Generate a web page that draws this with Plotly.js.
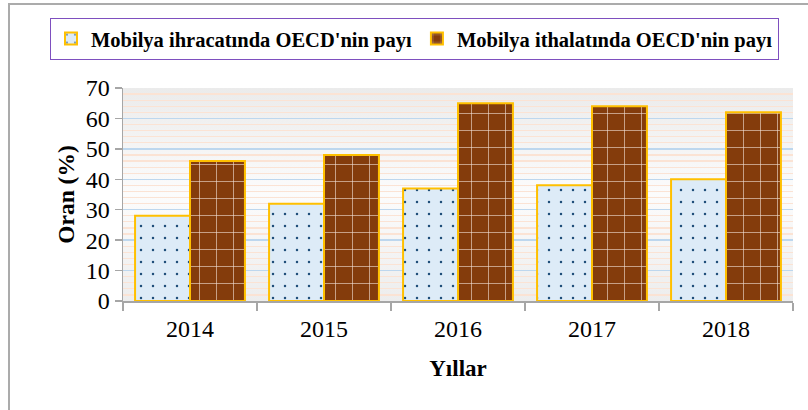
<!DOCTYPE html>
<html>
<head>
<meta charset="utf-8">
<script src="https://cdn.plot.ly/plotly-3.0.1.min.js"></script>
<style>
html,body{margin:0;padding:0;background:#fff;}
#wrap{position:relative;width:808px;height:410px;}
#chart{position:absolute;left:0;top:0;width:808px;height:410px;}
#frame{position:absolute;left:8px;top:3px;width:800px;height:407px;border-top:2px solid #ababab;border-left:2px solid #ababab;pointer-events:none;box-sizing:border-box;}
</style>
</head>
<body>
<div id="wrap"><div id="chart"></div><div id="frame"></div></div>
<script>
var years = ['2014', '2015', '2016', '2017', '2018'];
var exportShare = [28, 32, 37, 38, 40];
var importShare = [46, 48, 65, 64, 62];
var seriesNames = ["Mobilya ihracatında OECD'nin payı", "Mobilya ithalatında OECD'nin payı"];

var font = 'Liberation Serif, Times New Roman, serif';

var bgSvg = '<svg xmlns="http://www.w3.org/2000/svg" width="10" height="100" preserveAspectRatio="none">' +
  '<defs><linearGradient id="g" x1="0" y1="0" x2="0" y2="1">' +
  '<stop offset="0" stop-color="#ebebeb"/><stop offset="0.5" stop-color="#fcfcfc"/><stop offset="1" stop-color="#ededed"/>' +
  '</linearGradient></defs><rect width="10" height="100" fill="url(#g)"/></svg>';
var bgUri = 'data:image/svg+xml;base64,' + btoa(bgSvg);

var traces = [
  {
    type: 'bar', name: seriesNames[0], x: years, y: exportShare,
    marker: {
      color: '#ddebf7',
      line: {color: '#ffc000', width: 2},
      pattern: {shape: '.', fgcolor: '#1f4e79', bgcolor: '#ddebf7', size: 12, solidity: 0.035, fillmode: 'replace'}
    },
    hoverinfo: 'x+y'
  },
  {
    type: 'bar', name: seriesNames[1], x: years, y: importShare,
    marker: {
      color: '#843c0c',
      line: {color: '#ffc000', width: 2},
      pattern: {shape: '+', fgcolor: '#f4e2d8', bgcolor: '#843c0c', size: 17, solidity: 0.07, fillmode: 'replace'}
    },
    hoverinfo: 'x+y'
  }
];

var layout = {
  width: 808, height: 410,
  margin: {l: 123, r: 15, t: 88, b: 109},
  paper_bgcolor: 'rgba(0,0,0,0)',
  plot_bgcolor: 'rgba(0,0,0,0)',
  barmode: 'group',
  bargap: 0.18,
  bargroupgap: 0,
  font: {family: font, color: '#000', size: 23},
  showlegend: true,
  legend: {
    orientation: 'h', xref: 'paper', yref: 'paper',
    x: -0.109, xanchor: 'left', y: 1.33, yanchor: 'top',
    bordercolor: '#7e4fbf', borderwidth: 1, bgcolor: '#ffffff',
    font: {family: font, size: 20.5, color: '#000', weight: 'bold'},
    itemwidth: 30, tracegroupgap: 0
  },
  images: [{
    source: bgUri, xref: 'paper', yref: 'paper', x: 0, y: 1, sizex: 1, sizey: 1,
    sizing: 'stretch', layer: 'below', xanchor: 'left', yanchor: 'top'
  }],
  xaxis: {
    type: 'category',
    tickson: 'boundaries',
    ticks: 'outside', ticklen: 8, tickcolor: '#a6a6a6', tickwidth: 1.5,
    showline: true, linecolor: '#a6a6a6', linewidth: 1.5,
    showgrid: false,
    ticklabelstandoff: 6,
    tickfont: {family: font, size: 24, color: '#000'},
    title: {text: 'Yıllar', font: {family: font, size: 23, color: '#000', weight: 'bold'}, standoff: 18},
    fixedrange: true
  },
  yaxis: {
    range: [0, 70], dtick: 10,
    ticks: 'outside', ticklen: 7, tickcolor: '#a6a6a6', tickwidth: 1.5,
    showline: true, linecolor: '#a6a6a6', linewidth: 1.5,
    showgrid: true, gridcolor: '#bdd7ee', gridwidth: 1.5,
    zeroline: false,
    minor: {dtick: 2, showgrid: true, gridcolor: '#fbe3d4', gridwidth: 1.2, ticks: ''},
    tickfont: {family: font, size: 24, color: '#000'},
    title: {text: 'Oran (%)', font: {family: font, size: 23.5, color: '#000', weight: 'bold'}, standoff: 4},
    fixedrange: true
  }
};

Plotly.newPlot('chart', traces, layout, {displayModeBar: false, staticPlot: true});
</script>
</body>
</html>
